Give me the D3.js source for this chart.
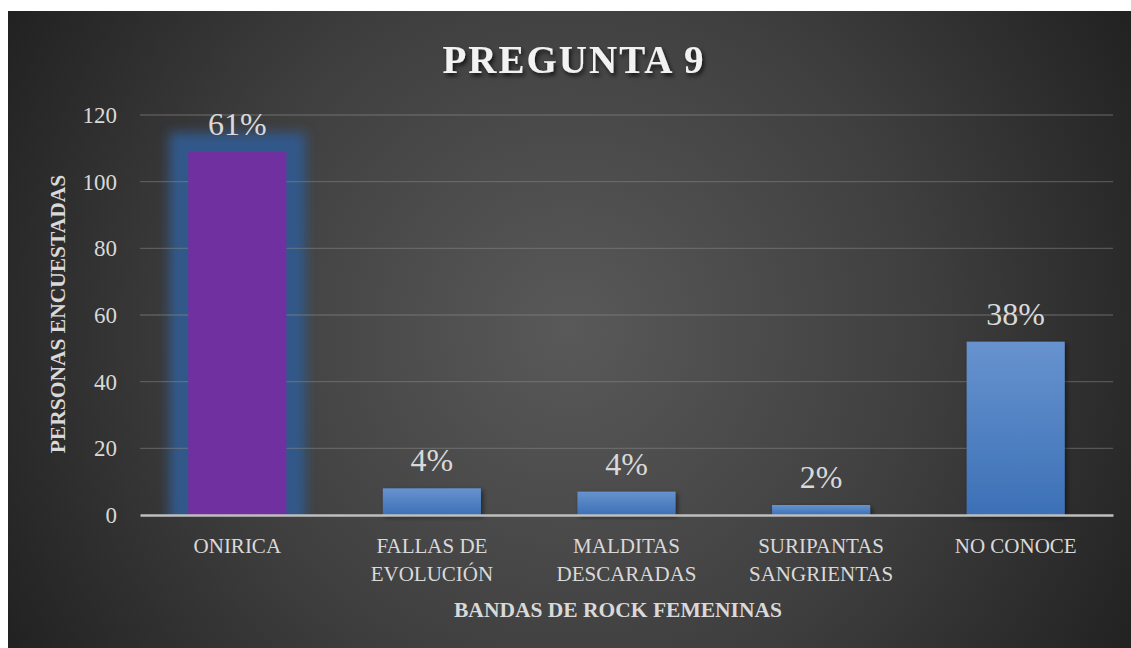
<!DOCTYPE html>
<html><head><meta charset="utf-8">
<script src="https://cdn.jsdelivr.net/npm/d3@7"></script>
<style>html,body{margin:0;padding:0;background:#fff;}svg{display:block;}</style>
</head><body>
<svg id="chart" width="1131" height="648"></svg>
<script>
const categories = [["ONIRICA"], ["FALLAS DE", "EVOLUCIÓN"], ["MALDITAS", "DESCARADAS"], ["SURIPANTAS", "SANGRIENTAS"], ["NO CONOCE"]];
const values = [109, 8, 7, 3, 52];
const percentLabels = ["61%", "4%", "4%", "2%", "38%"];
const highlight = [true, false, false, false, false];
const yTicks = [0, 20, 40, 60, 80, 100, 120];
const title = "PREGUNTA 9";
const yTitle = "PERSONAS ENCUESTADAS";
const xTitle = "BANDAS DE ROCK FEMENINAS";

const font = "'Liberation Serif', 'DejaVu Serif', serif";
const svg = d3.select("#chart");
const defs = svg.append("defs");

const bg = defs.append("radialGradient").attr("id","bg").attr("gradientUnits","userSpaceOnUse")
  .attr("cx",570).attr("cy",330).attr("r",640);
bg.append("stop").attr("offset","0").attr("stop-color","#595959");
bg.append("stop").attr("offset","0.55").attr("stop-color","#3f3f3f");
bg.append("stop").attr("offset","1").attr("stop-color","#222222");

const barGrad = defs.append("linearGradient").attr("id","barGrad").attr("x1",0).attr("y1",0).attr("x2",0).attr("y2",1);
barGrad.append("stop").attr("offset","0").attr("stop-color","#6793cf");
barGrad.append("stop").attr("offset","1").attr("stop-color","#3c70b6");

const glow = defs.append("filter").attr("id","glow").attr("filterUnits","userSpaceOnUse")
  .attr("x",0).attr("y",0).attr("width",1131).attr("height",648);
glow.append("feGaussianBlur").attr("in","SourceGraphic").attr("stdDeviation",6);

defs.append("clipPath").attr("id","aboveAxis").append("rect").attr("x",0).attr("y",0).attr("width",1131).attr("height",515);

const shadow = defs.append("filter").attr("id","shadow").attr("x","-20%").attr("y","-20%").attr("width","140%").attr("height","140%");
shadow.append("feDropShadow").attr("dx",2).attr("dy",2).attr("stdDeviation",2.5).attr("flood-color","#000").attr("flood-opacity",0.5);

const tshadow = defs.append("filter").attr("id","tshadow").attr("x","-10%").attr("y","-30%").attr("width","120%").attr("height","160%");
tshadow.append("feDropShadow").attr("dx",2).attr("dy",3).attr("stdDeviation",2).attr("flood-color","#000").attr("flood-opacity",0.7);

svg.append("rect").attr("x",8).attr("y",11).attr("width",1123).attr("height",637).attr("fill","url(#bg)");

const x = d3.scaleBand().domain(d3.range(categories.length)).range([140,1113]).paddingInner(0.496).paddingOuter(0.248);
const y = d3.scaleLinear().domain([0,120]).range([515,115]);

// glow beneath highlighted bars
const gx = 19;
svg.append("g").attr("clip-path","url(#aboveAxis)").selectAll("rect")
  .data(values.map((v,i)=>({v,i})).filter(d=>highlight[d.i])).join("rect")
  .attr("x",d=>x(d.i)-gx).attr("width",x.bandwidth()+2*gx)
  .attr("y",d=>y(d.v)-gx).attr("height",d=>y(0)-y(d.v)+2*gx)
  .attr("fill","#30588a").attr("filter","url(#glow)");

// gridlines
svg.append("g").selectAll("line").data(yTicks.filter(d=>d>0)).join("line")
  .attr("x1",140).attr("x2",1113).attr("y1",d=>y(d)).attr("y2",d=>y(d))
  .attr("stroke","#8a8a8a").attr("stroke-width",1.3).attr("stroke-opacity",0.45);

// y axis ticks
const yAxis = d3.axisLeft(y).tickValues(yTicks).tickSize(0).tickPadding(0);
const ya = svg.append("g").attr("transform","translate(117,0)").call(yAxis);
ya.select(".domain").remove();
ya.selectAll("text").attr("fill","#d9d9d9").attr("font-family",font).attr("font-size",23).attr("dy","0.32em");

// bars
svg.append("g").selectAll("rect").data(values).join("rect")
  .attr("x",(d,i)=>x(i)).attr("width",x.bandwidth())
  .attr("y",d=>y(d)).attr("height",d=>y(0)-y(d))
  .attr("fill",(d,i)=>highlight[i] ? "#7030a0" : "url(#barGrad)")
  .attr("filter",(d,i)=>highlight[i] ? null : "url(#shadow)");

// x axis line
const xAxis = d3.axisBottom(x).tickSize(0).tickFormat("");
const xa = svg.append("g").attr("transform",`translate(0,${y(0)})`).call(xAxis);
xa.select(".domain").attr("stroke","#bfbfbf").attr("stroke-width",2.5);

// category labels
const cat = svg.append("g").selectAll("text").data(categories).join("text")
  .attr("x",(d,i)=>x(i)+x.bandwidth()/2).attr("y",553)
  .attr("text-anchor","middle").attr("fill","#d9d9d9").attr("font-family",font).attr("font-size",21);
cat.selectAll("tspan").data(d=>d).join("tspan")
  .attr("x",function(){return d3.select(this.parentNode).attr("x");})
  .attr("dy",(d,i)=>i===0?0:28).text(d=>d);

// data labels
svg.append("g").selectAll("text").data(values).join("text")
  .attr("x",(d,i)=>x(i)+x.bandwidth()/2).attr("y",d=>y(d)-17)
  .attr("text-anchor","middle").attr("fill","#d9d9d9").attr("font-family",font).attr("font-size",32)
  .text((d,i)=>percentLabels[i]);

// titles
svg.append("text").attr("x",574).attr("y",73).attr("text-anchor","middle")
  .attr("fill","#f2f2f2").attr("font-family",font).attr("font-weight","bold").attr("font-size",39)
  .attr("letter-spacing",2).attr("filter","url(#tshadow)").text(title);

svg.append("text").attr("transform","translate(65,314) rotate(-90)").attr("text-anchor","middle")
  .attr("fill","#d9d9d9").attr("font-family",font).attr("font-weight","bold").attr("font-size",21.5).text(yTitle);

svg.append("text").attr("x",618).attr("y",617).attr("text-anchor","middle")
  .attr("fill","#d9d9d9").attr("font-family",font).attr("font-weight","bold").attr("font-size",21.5).text(xTitle);
</script>
</body></html>
